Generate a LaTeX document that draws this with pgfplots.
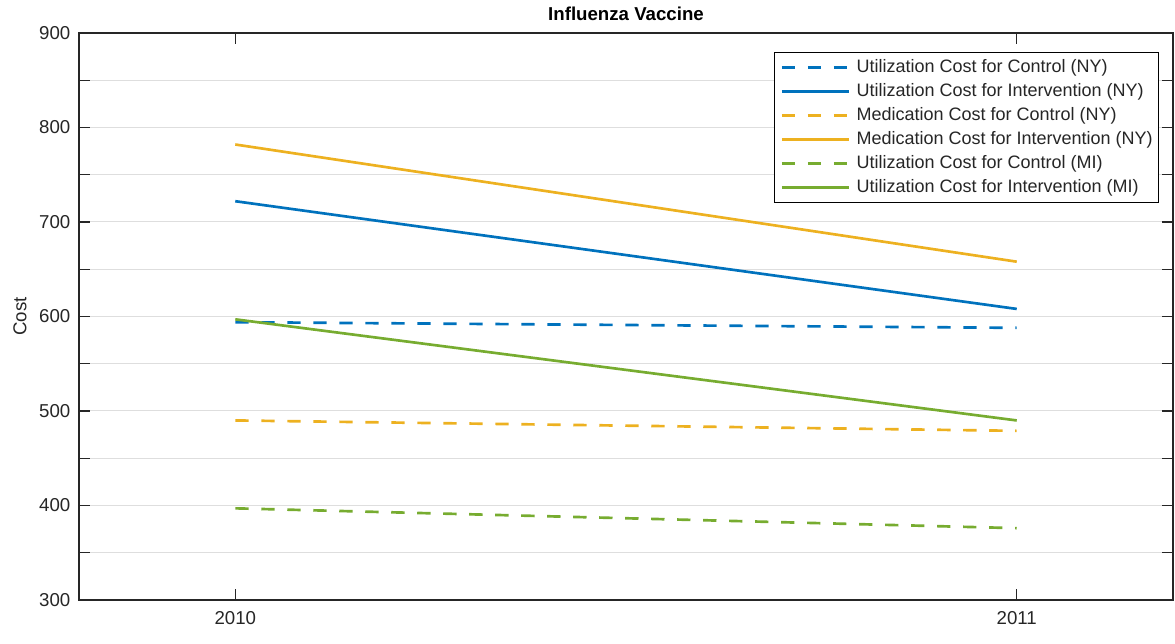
\documentclass[border=0pt]{standalone}
\usepackage{pgfplots}
\pgfplotsset{compat=1.18}
\usepackage{fontspec}
\setmainfont{Liberation Sans}
\definecolor{mblue}{rgb}{0,0.447,0.741}
\definecolor{morange}{rgb}{0.929,0.694,0.125}
\definecolor{mgreen}{rgb}{0.466,0.674,0.188}
\definecolor{mtext}{rgb}{0.15,0.15,0.15}
\definecolor{mgrid}{rgb}{0.87,0.87,0.87}
\begin{document}
\begin{tikzpicture}
\begin{axis}[
  name=ax,
  scale only axis,
  width=820.5pt, height=425.25pt,
  xmin=2009.8, xmax=2011.2,
  ymin=300, ymax=900,
  xtick={2010,2011},
  xticklabels={2010,2011},
  ytick={300,350,...,900},
  yticklabels={300,,400,,500,,600,,700,,800,,900},
  ymajorgrids,
  grid style={mgrid, line width=0.75pt},
  tick align=inside,
  major tick length=8pt,
  tick style={mtext, line width=0.9pt},
  axis line style={mtext, line width=0.9pt},
  /pgf/number format/assume math mode=true,
  ticklabel style={font=\fontsize{14}{16}\selectfont, text=mtext},
  xticklabel style={yshift=-5pt},
  yticklabel style={xshift=-3pt},
  title={\textbf{Influenza Vaccine}},
  title style={at={(0.5,1)}, anchor=base, yshift=3pt, font=\fontsize{14}{16}\selectfont, text=black},
  ylabel={Cost},
  ylabel style={at={(axis description cs:-0.054,0.5)}, anchor=center, font=\fontsize{14}{16}\selectfont, text=mtext},
  legend cell align=left,
  legend style={at={(0.987,0.966)}, anchor=north east, draw=black, line width=0.75pt, fill=white,
    font=\fontsize{13.5}{15}\selectfont, text=mtext, inner xsep=4.2pt, inner ysep=4pt,
    nodes={inner sep=0pt, text height=10.5pt, text depth=3.5pt}, row sep=4pt,
    /tikz/every odd column/.append style={column sep=5pt}},
  legend image code/.code={\draw[#1] (0pt,0pt) -- (50pt,0pt);},
  every axis plot/.append style={line width=2pt},
]
\addplot[mblue, dash pattern=on 10pt off 9.5pt] coordinates {(2010,594) (2011,588)};
\addlegendentry{Utilization Cost for Control (NY)}
\addplot[mblue] coordinates {(2010,722) (2011,608)};
\addlegendentry{Utilization Cost for Intervention (NY)}
\addplot[morange, dash pattern=on 10pt off 9.5pt] coordinates {(2010,490) (2011,479)};
\addlegendentry{Medication Cost for Control (NY)}
\addplot[morange] coordinates {(2010,782) (2011,658)};
\addlegendentry{Medication Cost for Intervention (NY)}
\addplot[mgreen, dash pattern=on 10pt off 9.5pt] coordinates {(2010,397) (2011,376)};
\addlegendentry{Utilization Cost for Control (MI)}
\addplot[mgreen] coordinates {(2010,597) (2011,490)};
\addlegendentry{Utilization Cost for Intervention (MI)}
\end{axis}
\pgfresetboundingbox
\path ([shift={(-59.25pt,-33pt)}]ax.south west) rectangle ([shift={(1.5pt,24.75pt)}]ax.north east);
\end{tikzpicture}
\end{document}
